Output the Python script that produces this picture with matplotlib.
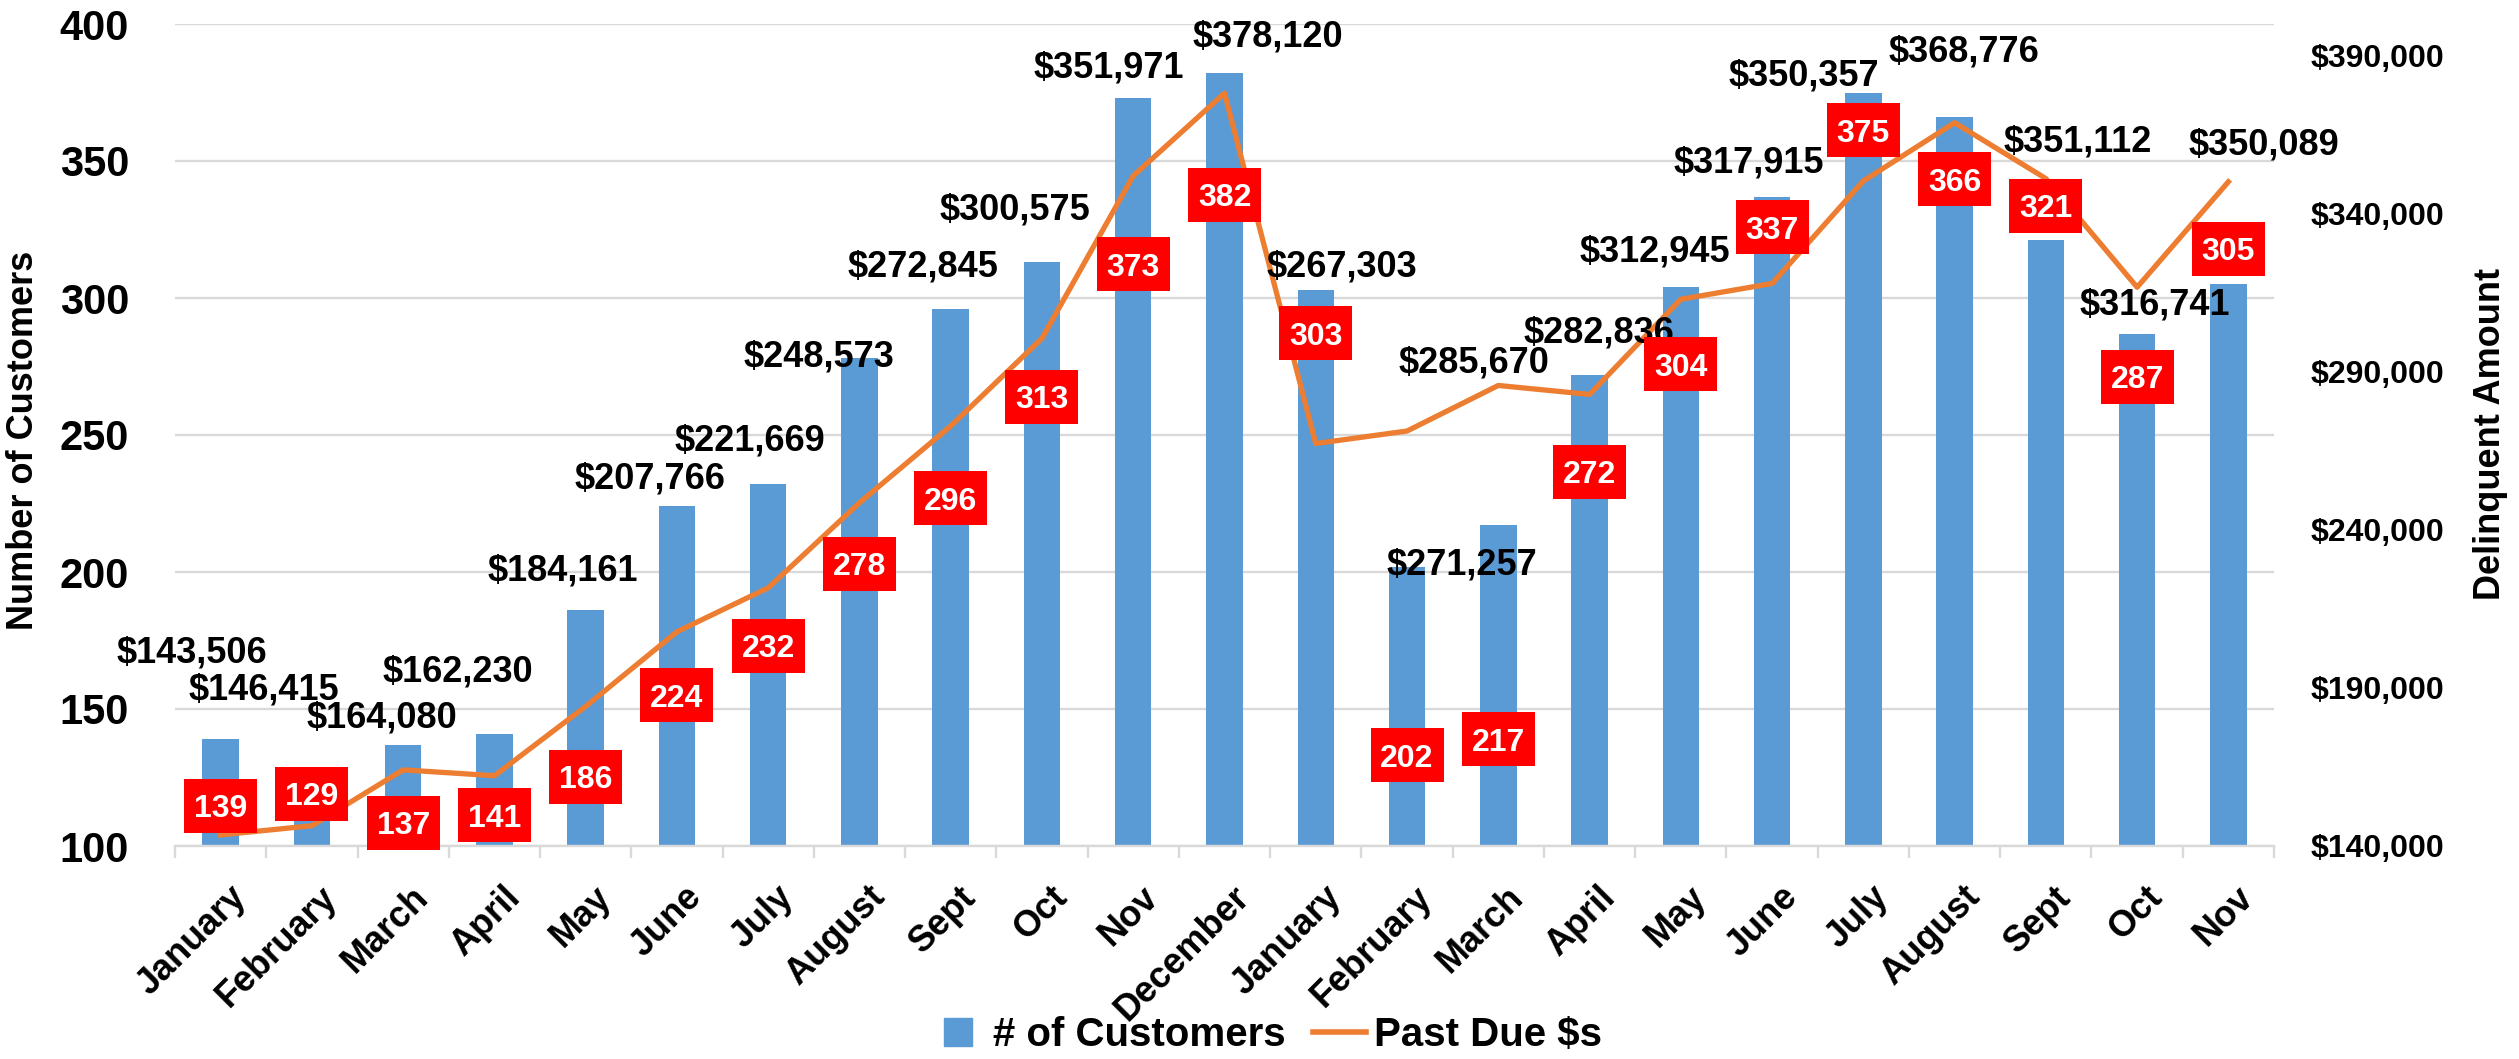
import matplotlib
matplotlib.use("Agg")
import matplotlib.pyplot as plt
from matplotlib.lines import Line2D
from matplotlib.patches import Rectangle
from matplotlib.transforms import ScaledTranslation

plt.rcParams['font.family'] = ['Liberation Sans', 'DejaVu Sans']
plt.rcParams['font.weight'] = 'bold'

# ---------------- data ----------------
months = ["January", "February", "March", "April", "May", "June", "July",
          "August", "Sept", "Oct", "Nov", "December", "January", "February",
          "March", "April", "May", "June", "July", "August", "Sept", "Oct", "Nov"]
customers = [139, 129, 137, 141, 186, 224, 232, 278, 296, 313, 373, 382,
             303, 202, 217, 272, 304, 337, 375, 366, 321, 287, 305]
past_due = [143506, 146415, 164080, 162230, 184161, 207766, 221669, 248573,
            272845, 300575, 351971, 378120, 267303, 271257, 285670, 282836,
            312945, 317915, 350357, 368776, 351112, 316741, 350089]
left_ticks = [100, 150, 200, 250, 300, 350, 400]
right_ticks = [140000, 190000, 240000, 290000, 340000, 390000]

# ---------------- label placement (layout only) ----------------
box_label_y = [114.6, 119.0, 108.4, 111.3, 125.2, 155.1, 173.0, 203.0, 227.0,
               263.9, 312.4, 337.6, 287.2, 133.2, 139.0, 236.5, 275.9, 325.9,
               361.3, 343.4, 333.6, 271.2, 317.9]
dollar_label_pos = [(-0.31, 201000), (0.475, 189300), (1.77, 180500), (2.60, 195000),
                    (3.75, 227000), (4.70, 256100), (5.80, 268000), (6.56, 294700),
                    (7.70, 323100), (8.70, 341200), (9.73, 386100), (11.47, 395900),
                    (12.29, 323100), (13.60, 228900), (13.73, 292800), (15.10, 302300),
                    (15.72, 327900), (16.74, 356000), (17.35, 383500), (19.10, 391100),
                    (20.35, 362700), (21.19, 311100), (22.39, 361700)]

BLUE = '#5B9BD5'
ORANGE = '#ED7D31'
GRID = '#D9D9D9'

W, H = 2519, 1059
fig = plt.figure(figsize=(W / 100, H / 100), dpi=100)
x0, x1, y0, y1 = 175, 2274, 24, 846
ax = fig.add_axes([x0 / W, 1 - y1 / H, (x1 - x0) / W, (y1 - y0) / H])
ax2 = ax.twinx()

xs = list(range(len(months)))
ax.bar(xs, customers, width=0.4, color=BLUE, zorder=2)
ax.set_xlim(-0.5, len(months) - 0.5)
ax.set_ylim(100, 400)
ax.set_yticks(left_ticks)
ax.set_yticklabels([str(t) for t in left_ticks], fontsize=30, fontweight='bold')
ax.tick_params(axis='y', length=0, pad=33)
ax.set_axisbelow(True)
ax.yaxis.grid(True, color=GRID, lw=1.7)

for s in ['left', 'right', 'top']:
    ax.spines[s].set_visible(False)
ax.spines['bottom'].set_color(GRID)
ax.spines['bottom'].set_linewidth(1.7)

ax.set_xticks(xs)
ax.set_xticklabels(months, rotation=45, ha='right', va='center',
                   rotation_mode='anchor', fontsize=26, fontweight='bold')
ax.set_xticks([i - 0.5 for i in range(len(months) + 1)], minor=True)
ax.tick_params(axis='x', which='major', length=0, pad=0)
ax.tick_params(axis='x', which='minor', length=8.6, width=1.7, color=GRID)
off = ScaledTranslation(0.20, -0.46, fig.dpi_scale_trans)
for lab in ax.get_xticklabels():
    lab.set_transform(lab.get_transform() + off)

ax2.plot(xs, past_due, color=ORANGE, lw=3.8, zorder=3)
ax2.set_ylim(140000, 400000)
ax2.set_yticks(right_ticks)
ax2.set_yticklabels([f"${t:,}" for t in right_ticks], fontsize=23, fontweight='bold')
ax2.tick_params(axis='y', length=0, pad=26)
for s in ax2.spines.values():
    s.set_visible(False)

for (lx, ly), v in zip(dollar_label_pos, past_due):
    ax2.text(lx, ly, f"${v:,}", ha='center', va='center', fontsize=26,
             fontweight='bold', color='black', zorder=10)

# red value boxes: fixed pixel size (73 x 54 px) centred on the label point
bw, bh = 0.73, 0.54
for i, (c, by) in enumerate(zip(customers, box_label_y)):
    tr = fig.dpi_scale_trans + ScaledTranslation(i, by, ax.transData)
    rect = Rectangle((-bw / 2, -bh / 2), bw, bh, transform=tr, fc='#FF0000',
                     ec='none', zorder=11, clip_on=False)
    ax2.add_patch(rect)
    ax2.text(i, by, str(c), transform=ax.transData, ha='center', va='center_baseline',
             color='white', fontsize=23, fontweight='bold', zorder=12)

fig.text(24 / W, 0.5845, 'Number of Customers', rotation=90, ha='center', va='center',
         fontsize=26, fontweight='bold')
fig.text(2491 / W, 0.590, 'Delinquent Amount', rotation=90, ha='center', va='center',
         fontsize=26, fontweight='bold')

handles = [Line2D([], [], marker='s', ls='none', color=BLUE, markersize=19.5),
           Line2D([], [], color=ORANGE, lw=4)]
fig.legend(handles, ['# of Customers', 'Past Due $s'], loc='center',
           bbox_to_anchor=(0.503, 0.023), ncol=2, frameon=False,
           prop={'size': 29, 'weight': 'bold'}, handlelength=1.3,
           handletextpad=0.2, columnspacing=0.7)

fig.savefig('out.png', dpi=100)
